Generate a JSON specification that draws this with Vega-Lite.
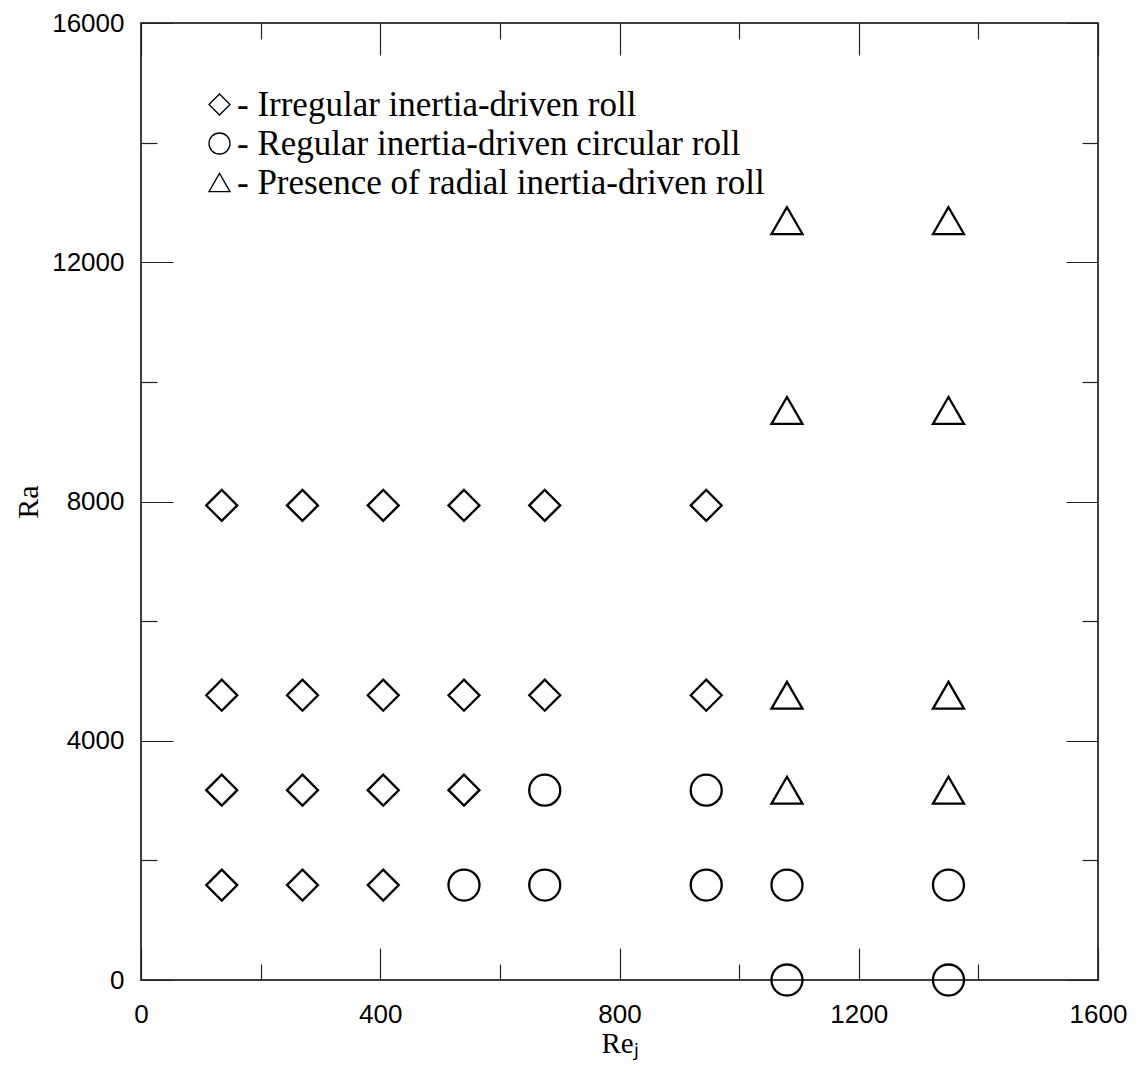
{
  "$schema": "https://vega.github.io/schema/vega-lite/v6.json",
  "width": 957,
  "height": 957,
  "autosize": {"type": "none"},
  "padding": {"left": 141, "top": 23, "right": 40, "bottom": 93},
  "background": "white",
  "config": {
    "view": {"stroke": "black", "strokeWidth": 1.5},
    "axis": {
      "domain": false,
      "grid": false,
      "tickColor": "#222",
      "tickWidth": 1.2,
      "labelFont": "Liberation Sans",
      "labelFontSize": 26,
      "labelColor": "black",
      "labelFlush": false,
      "labelOverlap": false,
      "titleFont": "Liberation Serif",
      "titleFontWeight": "normal",
      "titleColor": "black"
    }
  },
  "data": {
    "values": [
      {"Rej": 1080, "Ra": 0, "regime": "Regular inertia-driven circular roll"},
      {"Rej": 1350, "Ra": 0, "regime": "Regular inertia-driven circular roll"},
      {"Rej": 135, "Ra": 1587, "regime": "Irregular inertia-driven roll"},
      {"Rej": 270, "Ra": 1587, "regime": "Irregular inertia-driven roll"},
      {"Rej": 405, "Ra": 1587, "regime": "Irregular inertia-driven roll"},
      {"Rej": 540, "Ra": 1587, "regime": "Regular inertia-driven circular roll"},
      {"Rej": 675, "Ra": 1587, "regime": "Regular inertia-driven circular roll"},
      {"Rej": 945, "Ra": 1587, "regime": "Regular inertia-driven circular roll"},
      {"Rej": 1080, "Ra": 1587, "regime": "Regular inertia-driven circular roll"},
      {"Rej": 1350, "Ra": 1587, "regime": "Regular inertia-driven circular roll"},
      {"Rej": 135, "Ra": 3174, "regime": "Irregular inertia-driven roll"},
      {"Rej": 270, "Ra": 3174, "regime": "Irregular inertia-driven roll"},
      {"Rej": 405, "Ra": 3174, "regime": "Irregular inertia-driven roll"},
      {"Rej": 540, "Ra": 3174, "regime": "Irregular inertia-driven roll"},
      {"Rej": 675, "Ra": 3174, "regime": "Regular inertia-driven circular roll"},
      {"Rej": 945, "Ra": 3174, "regime": "Regular inertia-driven circular roll"},
      {"Rej": 1080, "Ra": 3174, "regime": "Presence of radial inertia-driven roll"},
      {"Rej": 1350, "Ra": 3174, "regime": "Presence of radial inertia-driven roll"},
      {"Rej": 135, "Ra": 4761, "regime": "Irregular inertia-driven roll"},
      {"Rej": 270, "Ra": 4761, "regime": "Irregular inertia-driven roll"},
      {"Rej": 405, "Ra": 4761, "regime": "Irregular inertia-driven roll"},
      {"Rej": 540, "Ra": 4761, "regime": "Irregular inertia-driven roll"},
      {"Rej": 675, "Ra": 4761, "regime": "Irregular inertia-driven roll"},
      {"Rej": 945, "Ra": 4761, "regime": "Irregular inertia-driven roll"},
      {"Rej": 1080, "Ra": 4761, "regime": "Presence of radial inertia-driven roll"},
      {"Rej": 1350, "Ra": 4761, "regime": "Presence of radial inertia-driven roll"},
      {"Rej": 135, "Ra": 7935, "regime": "Irregular inertia-driven roll"},
      {"Rej": 270, "Ra": 7935, "regime": "Irregular inertia-driven roll"},
      {"Rej": 405, "Ra": 7935, "regime": "Irregular inertia-driven roll"},
      {"Rej": 540, "Ra": 7935, "regime": "Irregular inertia-driven roll"},
      {"Rej": 675, "Ra": 7935, "regime": "Irregular inertia-driven roll"},
      {"Rej": 945, "Ra": 7935, "regime": "Irregular inertia-driven roll"},
      {"Rej": 1080, "Ra": 9522, "regime": "Presence of radial inertia-driven roll"},
      {"Rej": 1350, "Ra": 9522, "regime": "Presence of radial inertia-driven roll"},
      {"Rej": 1080, "Ra": 12696, "regime": "Presence of radial inertia-driven roll"},
      {"Rej": 1350, "Ra": 12696, "regime": "Presence of radial inertia-driven roll"}
    ]
  },
  "layer": [
    {
      "mark": {"type": "point", "filled": false, "color": "black", "size": 961, "strokeWidth": 2.3, "opacity": 1},
      "encoding": {
        "x": {
          "field": "Rej", "type": "quantitative",
          "scale": {"domain": [0, 1600], "nice": false, "zero": false},
          "axis": {
            "orient": "bottom",
            "values": [0, 200, 400, 600, 800, 1000, 1200, 1400, 1600],
            "format": "d",
            "labelExpr": "datum.value % 400 === 0 ? datum.label : ''",
            "tickSize": {"condition": {"test": "datum.value % 400 === 0", "value": -32}, "value": -16},
            "labelPadding": 53,
            "title": "Reⱼ",
            "titleFontSize": 29,
            "titleX": 478.5,
            "titleY": 72,
            "titleAlign": "center",
            "titleBaseline": "alphabetic"
          }
        },
        "y": {
          "field": "Ra", "type": "quantitative",
          "scale": {"domain": [0, 16000], "nice": false, "zero": false},
          "axis": {
            "orient": "left",
            "values": [0, 2000, 4000, 6000, 8000, 10000, 12000, 14000, 16000],
            "format": "d",
            "labelExpr": "datum.value % 4000 === 0 ? datum.label : ''",
            "tickSize": {"condition": {"test": "datum.value % 4000 === 0", "value": -32}, "value": -16},
            "labelPadding": 49,
            "title": "Ra",
            "titleFontSize": 30,
            "titleAngle": -90,
            "titleX": -104,
            "titleY": 478.5,
            "titleAlign": "center",
            "titleBaseline": "alphabetic"
          }
        },
        "shape": {
          "field": "regime", "type": "nominal",
          "scale": {
            "domain": ["Irregular inertia-driven roll", "Regular inertia-driven circular roll", "Presence of radial inertia-driven roll"],
            "range": ["diamond", "circle", "triangle-up"]
          },
          "legend": {
            "orient": "none",
            "legendX": 61,
            "legendY": 64,
            "title": null,
            "padding": 0,
            "labelExpr": "'- ' + datum.label",
            "labelFont": "Liberation Serif",
            "labelFontSize": 35,
            "labelColor": "black",
            "labelLimit": 1000,
            "labelOffset": 0,
            "rowPadding": 3,
            "symbolSize": 441,
            "symbolStrokeWidth": 1.3,
            "symbolStrokeColor": "black",
            "symbolFillColor": "transparent"
          }
        }
      }
    },
    {
      "mark": {"type": "point", "opacity": 0},
      "encoding": {
        "x": {
          "field": "Rej", "type": "quantitative",
          "axis": {
            "orient": "top",
            "values": [0, 200, 400, 600, 800, 1000, 1200, 1400, 1600],
            "labels": false,
            "title": null,
            "tickSize": {"condition": {"test": "datum.value % 400 === 0", "value": -32}, "value": -16}
          }
        },
        "y": {
          "field": "Ra", "type": "quantitative",
          "axis": {
            "orient": "right",
            "values": [0, 2000, 4000, 6000, 8000, 10000, 12000, 14000, 16000],
            "labels": false,
            "title": null,
            "tickSize": {"condition": {"test": "datum.value % 4000 === 0", "value": -32}, "value": -16}
          }
        }
      }
    }
  ],
  "resolve": {"axis": {"x": "independent", "y": "independent"}}
}
